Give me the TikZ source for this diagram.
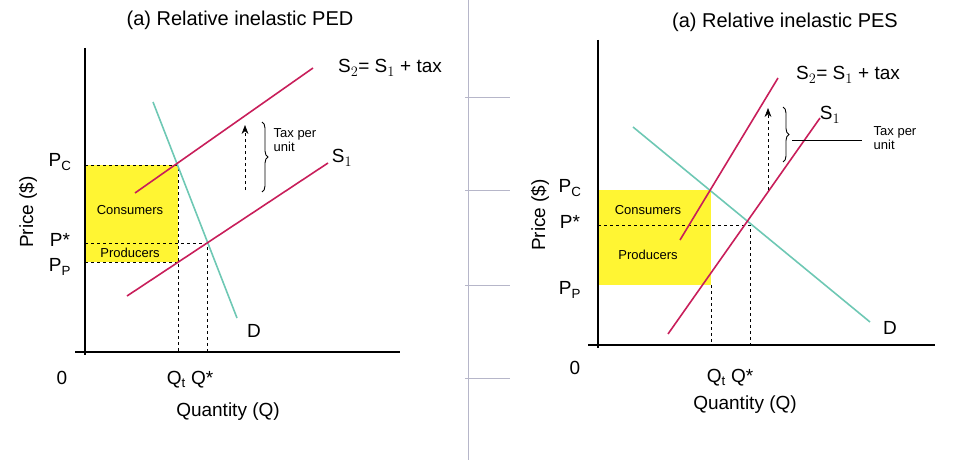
\documentclass[tikz,border=0pt]{standalone}
\usepackage{fontspec}
\setmainfont{Liberation Sans}
\usetikzlibrary{decorations.pathreplacing,arrows.meta}
\begin{document}
\begin{tikzpicture}[x=1pt,y=-1pt,
  ax/.style={line width=1.4pt},
  sup/.style={draw={rgb,255:red,200;green,30;blue,90},line width=1.6pt},
  dem/.style={draw={rgb,255:red,110;green,200;blue,180},line width=1.6pt},
  dsh/.style={dashed,line width=0.6pt},
  lbl/.style={font=\fontsize{19}{22}\selectfont},
  sm/.style={font=\fontsize{13}{14}\selectfont},
  grid/.style={draw=blue!15!gray!50,line width=0.6pt}]
\useasboundingbox (0,0) rectangle (964,460);
\draw[grid] (468,0) -- (468,460);
\foreach \y in {97,190,285,378} \draw[grid] (465,\y) -- (510,\y);
% left panel
\node[font=\fontsize{20}{24}\selectfont] (t1) at (240,20) {(a) Relative inelastic PED};
\fill[yellow!80!white] (85,165) rectangle (178,262);
\draw[ax] (85,48) -- (85,355);
\draw[ax] (75,352) -- (400,352);
\draw[dsh] (85,165) -- (178,165) -- (178,352);
\draw[dsh] (85,243) -- (207,243) -- (207,352);
\draw[dsh] (85,262) -- (178,262);
\draw[dem] (153,102) -- (237,318);
\draw[sup] (127,296) -- (328,163);
\draw[sup] (135,193) -- (313,68);
\coordinate (a1) at (245,190); \coordinate (a2) at (245,125);
\draw[dsh,-{Stealth[length=9pt]}] (a1) -- (a2);
\draw[decorate,decoration={brace,amplitude=6pt},line width=0.9pt] (262,122) -- (262,192);
\node[align=left,sm,inner sep=0] (tx1) at (295,140) {Tax per\\unit};
\node[lbl] (s1l) at (342,158) {S$_1$};
\node[lbl] (s2l) at (390,68) {S$_2$= S$_1$ + tax};
\node[lbl] (dl) at (254,331) {D};
\node[sm] (c1) at (130,210) {Consumers};
\node[sm] (p1) at (130,253) {Producers};
\node[lbl] (pc1) at (60,162) {P$_\mathrm{C}$};
\node[lbl] (ps1) at (60,240) {P*};
\node[lbl] (pp1) at (60,267) {P$_\mathrm{P}$};
\node[lbl] (o1) at (62,378) {0};
\node[lbl] (q1) at (190,380) {Q$_\mathrm{t}$ Q*};
\node[lbl] (xl1) at (228,412) {Quantity (Q)};
\node[lbl,rotate=90] (yl1) at (28,212) {Price (\$)};
% right panel
\node[font=\fontsize{20}{24}\selectfont] (t2) at (785,22) {(a) Relative inelastic PES};
\fill[yellow!80!white] (598,190) rectangle (711,285);
\draw[ax] (598,40) -- (598,348);
\draw[ax] (588,345) -- (935,345);
\draw[dsh] (711,285) -- (711,345);
\draw[dsh] (598,225) -- (750,225) -- (750,345);
\draw[dem] (633,127) -- (870,322);
\draw[sup] (668,334) -- (820,118);
\draw[sup] (680,240) -- (778,78);
\coordinate (b1) at (768,190); \coordinate (b2) at (768,108);
\draw[dsh,-{Stealth[length=9pt]}] (b1) -- (b2);
\draw[decorate,decoration={brace,amplitude=6pt},line width=0.9pt] (783,107) -- (783,162);
\draw[line width=0.6pt] (792,140) -- (862,140);
\node[align=left,sm,inner sep=0] (tx2) at (895,138) {Tax per\\unit};
\node[lbl] (s1r) at (830,115) {S$_1$};
\node[lbl] (s2r) at (848,75) {S$_2$= S$_1$ + tax};
\node[lbl] (dr) at (890,328) {D};
\node[sm] (c2) at (648,210) {Consumers};
\node[sm] (p2) at (648,255) {Producers};
\node[lbl] (pc2) at (570,188) {P$_\mathrm{C}$};
\node[lbl] (ps2) at (570,222) {P*};
\node[lbl] (pp2) at (570,290) {P$_\mathrm{P}$};
\node[lbl] (o2) at (575,368) {0};
\node[lbl] (q2) at (730,378) {Q$_\mathrm{t}$ Q*};
\node[lbl] (xl2) at (745,405) {Quantity (Q)};
\node[lbl,rotate=90] (yl2) at (540,215) {Price (\$)};
\end{tikzpicture}
\end{document}
